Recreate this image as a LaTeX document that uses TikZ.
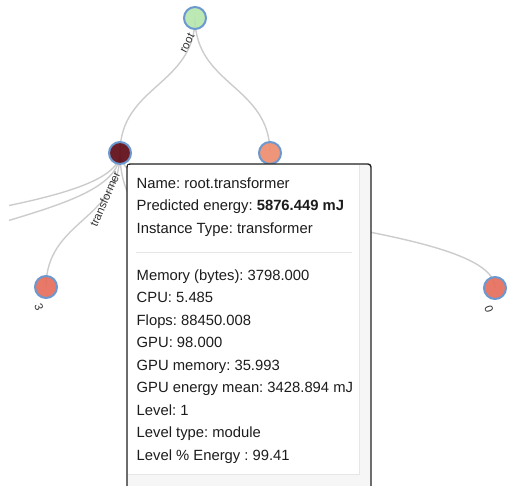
\documentclass[tikz,border=0pt]{standalone}
\usepackage{fontspec}
\setmainfont{Liberation Sans}
\usetikzlibrary{calc}
\definecolor{edgec}{HTML}{CCCCCC}
\definecolor{ringc}{HTML}{6B98CF}
\definecolor{rootc}{HTML}{B6E6AE}
\definecolor{trc}{HTML}{5E0B16}
\definecolor{orc}{HTML}{EE8D6F}
\definecolor{leafc}{HTML}{E66E5C}
\definecolor{tipborder}{HTML}{222222}
\definecolor{tipgray}{HTML}{F6F6F6}
\definecolor{sepc}{HTML}{E6E6E6}
\definecolor{txtc}{HTML}{1C1C1C}
\definecolor{lblc}{HTML}{333333}
\frenchspacing
\tikzset{
  dlink/.style={to path={let \p1=(\tikztostart), \p2=(\tikztotarget) in
     .. controls (\x1,{0.5*(\y1+\y2)}) and (\x2,{0.5*(\y1+\y2)}) .. (\tikztotarget)}},
  link/.style={draw=edgec, line width=1.4pt},
  nd/.style={circle, minimum size=22pt, inner sep=0pt, draw=ringc, line width=2pt, fill opacity=0.92},
  elabel/.style={font=\fontsize{11.5}{13}\selectfont, text=lblc, inner sep=0pt},
  tipline/.style={anchor=base west, inner sep=0pt, text=txtc, font=\fontsize{14.8}{17}\selectfont}
}
\begin{document}
\begin{tikzpicture}[x=1pt,y=-1pt]
\useasboundingbox (0,0) rectangle (507,486);
% positions
\coordinate (root) at (195,18);
\coordinate (tr) at (120,153);
\coordinate (or) at (270,153);
\coordinate (c3) at (46,287);
\coordinate (c0) at (495,288);
\coordinate (cl1) at (-256,287);
\coordinate (cl2) at (-99,287);
\coordinate (ch) at (170,287);
% edges
\begin{scope}
\clip (9,0) rectangle (507,486);
\draw[link] (root) to[dlink] (tr);
\draw[link] (root) to[dlink] (or);
\draw[link] (tr) to[dlink] (cl1);
\draw[link] (tr) to[dlink] (cl2);
\draw[link] (tr) to[dlink] (c3);
\draw[link] (tr) to[dlink] (ch);
\draw[link] (tr) to[dlink] (c0);
\end{scope}
% nodes
\node[nd, fill=rootc] (nroot) at (root) {};
\node[nd, fill=trc] (ntr) at (tr) {};
\node[nd, fill=orc] (nor) at (or) {};
\node[nd, fill=leafc] (n3) at (c3) {};
\node[nd, fill=leafc] (n0) at (c0) {};
% labels
\node[elabel, rotate=63] (lroot) at (187,43) {root};
\node[elabel, rotate=66] (ltr) at (105,199) {transformer};
\node[elabel, rotate=-70] (l3) at (39,307) {3};
\node[elabel, rotate=-70] (l0) at (489,309) {0};
% tooltip
\draw[draw=tipborder, line width=1.4pt, fill=tipgray, rounded corners=3pt] (127,164) rectangle (371,500);
\fill[white] (128,165) rectangle (359,474);
\draw[sepc, line width=0.6pt] (359,165) -- (359,474) -- (128,474);
\draw[sepc, line width=1pt] (136,252.3) -- (352,252.3);
\node[tipline] (t1) at (136.5,188.3) {Name: root.transformer};
\node[tipline] (t2) at (136.5,211) {Predicted energy: \textbf{5876.449 mJ}};
\node[tipline] (t3) at (136.5,233.7) {Instance Type: transformer};
\node[tipline] (t4) at (136.5,280.7) {Memory (bytes): 3798.000};
\node[tipline] (t5) at (136.5,302.9) {CPU: 5.485};
\node[tipline] (t6) at (136.5,325.3) {Flops: 88450.008};
\node[tipline] (t7) at (136.5,347.6) {GPU: 98.000};
\node[tipline] (t8) at (136.5,370.2) {GPU memory: 35.993};
\node[tipline] (t9) at (136.5,392.7) {GPU energy mean: 3428.894 mJ};
\node[tipline] (t10) at (136.5,415.3) {Level: 1};
\node[tipline] (t11) at (136.5,438) {Level type: module};
\node[tipline] (t12) at (136.5,460.7) {Level \% Energy : 99.41};
\end{tikzpicture}
\end{document}
